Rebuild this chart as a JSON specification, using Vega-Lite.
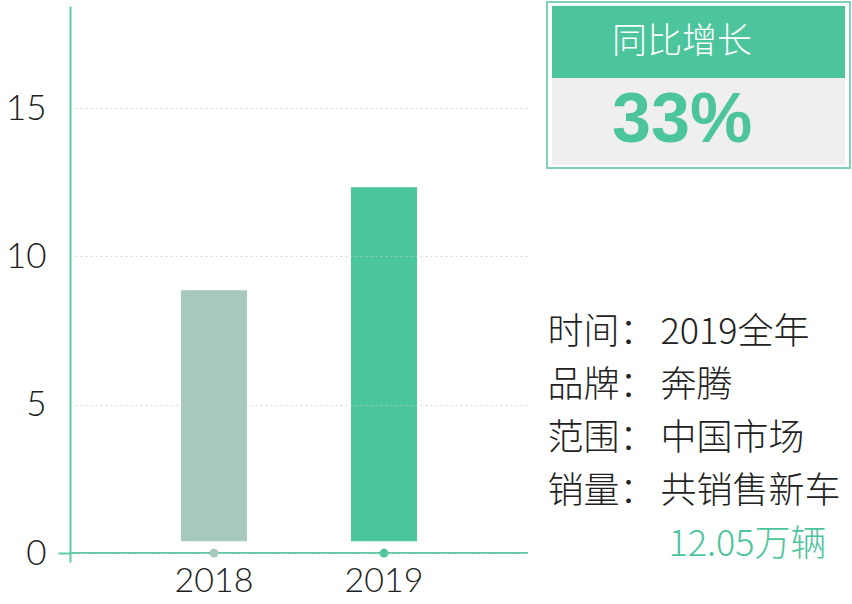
{
  "$schema": "https://vega.github.io/schema/vega-lite/v6.json",
  "padding": {"top": 1, "left": 5, "right": 2, "bottom": 0},
  "background": "#ffffff",
  "bounds": "flush",
  "config": {
    "view": {"stroke": null},
    "font": "Noto Sans CJK SC"
  },
  "hconcat": [
    {
      "width": 458,
      "height": 556,
      "data": {
        "values": [
          {"year": "2018", "sales": 8.86},
          {"year": "2019", "sales": 12.33}
        ]
      },
      "layer": [
        {
          "mark": {"type": "bar"},
          "encoding": {
            "x": {
              "field": "year",
              "type": "nominal",
              "scale": {"paddingInner": 0.612, "paddingOuter": 0.653},
              "axis": {
                "title": null,
                "domain": false,
                "ticks": false,
                "labelAngle": 0,
                "labelFont": "Lato",
                "labelFontSize": 34,
                "labelFontWeight": 300,
                "labelColor": "#222222",
                "labelPadding": 2
              }
            },
            "y": {
              "field": "sales",
              "type": "quantitative",
              "scale": {"domain": [-0.3, 18.44], "nice": false, "zero": false},
              "axis": {
                "title": null,
                "values": [0, 5, 10, 15],
                "zindex": 1,
                "domainColor": "#5fcaa6",
                "domainWidth": 2,
                "tickSize": 12,
                "tickWidth": 2,
                "tickColor": {"condition": {"test": "datum.value === 0", "value": "#5fcaa6"}, "value": "transparent"},
                "labelPadding": 12,
                "labelFont": "Lato",
                "labelFontSize": 35,
                "labelFontWeight": 300,
                "labelColor": "#222222",
                "grid": true,
                "gridDash": [2, 3],
                "gridColor": "#c8c8c8",
                "gridOpacity": 0.7
              }
            },
            "y2": {"datum": 0.4},
            "color": {
              "field": "year",
              "type": "nominal",
              "scale": {"domain": ["2018", "2019"], "range": ["#a6c9bb", "#4ac59c"]},
              "legend": null
            }
          }
        },
        {
          "mark": {"type": "rule", "color": "#5fcaa6", "strokeWidth": 2},
          "encoding": {"y": {"datum": 0}}
        },
        {
          "mark": {"type": "point", "filled": true, "size": 80, "opacity": 1},
          "encoding": {
            "x": {"field": "year", "type": "nominal"},
            "y": {"datum": 0},
            "color": {"field": "year", "type": "nominal"}
          }
        }
      ]
    },
    {
      "spacing": 136,
      "vconcat": [
        {
          "width": 293,
          "height": 159,
          "data": {"values": [{"label": "同比增长", "growth": "33%"}]},
          "layer": [
            {
              "mark": {"type": "rect", "fill": "transparent", "stroke": "#7fd3b6", "strokeWidth": 2},
              "encoding": {
                "x": {"datum": -0.017, "type": "quantitative", "scale": {"domain": [0, 1]}, "axis": null},
                "x2": {"datum": 1.017},
                "y": {"datum": -0.019, "type": "quantitative", "scale": {"domain": [0, 1]}, "axis": null},
                "y2": {"datum": 1.025}
              }
            },
            {
              "mark": {"type": "rect", "fill": "#4cc49c"},
              "encoding": {
                "x": {"datum": 0, "type": "quantitative"},
                "x2": {"datum": 1},
                "y": {"datum": 0.547, "type": "quantitative"},
                "y2": {"datum": 1}
              }
            },
            {
              "mark": {"type": "rect", "fill": "#efefef"},
              "encoding": {
                "x": {"datum": 0, "type": "quantitative"},
                "x2": {"datum": 1},
                "y": {"datum": 0, "type": "quantitative"},
                "y2": {"datum": 0.547}
              }
            },
            {
              "mark": {"type": "text", "color": "#ffffff", "fontSize": 35, "fontWeight": 300},
              "encoding": {
                "x": {"datum": 0.444, "type": "quantitative"},
                "y": {"datum": 0.774, "type": "quantitative"},
                "text": {"field": "label"}
              }
            },
            {
              "mark": {"type": "text", "color": "#4cc49c", "fontSize": 70, "font": "Liberation Sans", "fontWeight": "bold"},
              "encoding": {
                "x": {"datum": 0.444, "type": "quantitative"},
                "y": {"datum": 0.274, "type": "quantitative"},
                "text": {"field": "growth"}
              }
            }
          ]
        },
        {
          "width": 293,
          "height": 265,
          "data": {
            "values": [
              {"line": 1, "label": "时间：", "value": "2019全年"},
              {"line": 2, "label": "品牌：", "value": "奔腾"},
              {"line": 3, "label": "范围：", "value": "中国市场"},
              {"line": 4, "label": "销量：", "value": "共销售新车"},
              {"line": 5, "label": "", "value": "12.05万辆"}
            ]
          },
          "encoding": {
            "y": {"field": "line", "type": "ordinal", "axis": null}
          },
          "layer": [
            {
              "mark": {"type": "text", "align": "left", "dx": -151, "fontSize": 36, "fontWeight": 300, "color": "#222222"},
              "encoding": {"text": {"field": "label"}}
            },
            {
              "transform": [{"filter": "datum.line < 5"}],
              "mark": {"type": "text", "align": "left", "dx": -38, "fontSize": 36, "fontWeight": 300, "color": "#222222"},
              "encoding": {"text": {"field": "value"}}
            },
            {
              "transform": [{"filter": "datum.line === 5"}],
              "mark": {"type": "text", "align": "left", "dx": -30, "fontSize": 36, "fontWeight": 300, "color": "#4cc49c"},
              "encoding": {"text": {"field": "value"}}
            }
          ]
        }
      ]
    }
  ],
  "spacing": 24
}
